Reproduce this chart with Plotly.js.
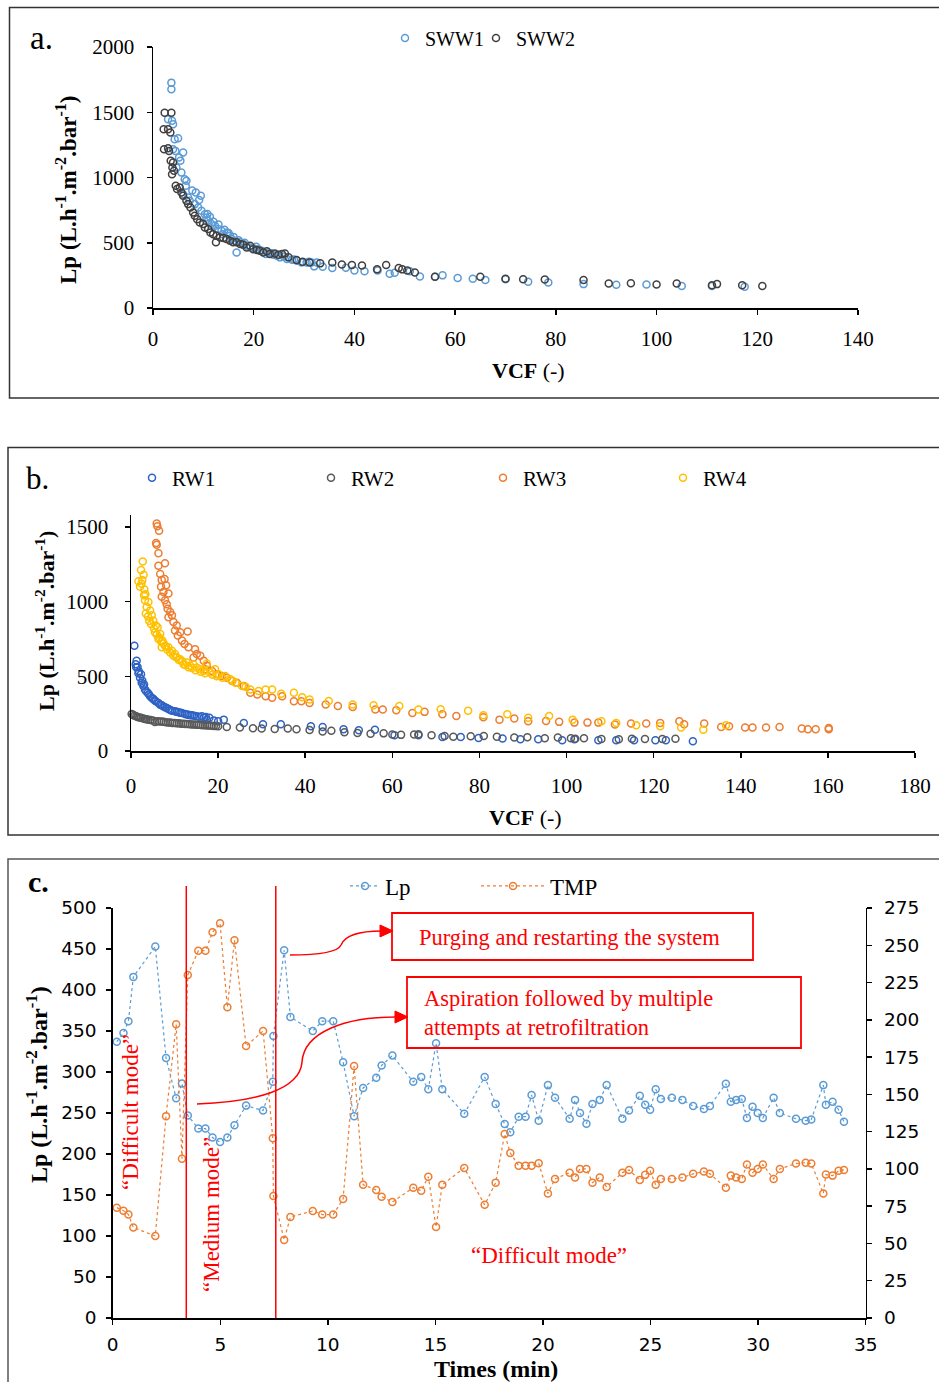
<!DOCTYPE html>
<html><head><meta charset="utf-8">
<script src="https://cdn.plot.ly/plotly-3.0.1.min.js"></script>
<style>html,body{margin:0;padding:0;background:#fff}#chart{width:939px;height:1382px}</style>
</head><body><div id="chart"></div>
<script>
// ---------- Panel a data ----------
const sww1VCF = [3.65,3.65,2.99,3.78,3.98,4.3,4.98,3.98,4.45,5.18,5.98,5.44,4.65,5.64,6.3,6.64,6.5,5.98,6.97,7.3,8.5,9.16,8.3,8.97,9.63,10.3,10.6,10.96,11.6,12.3,12.95,13.6,13.9,14.7,15.3,15.6,16.6,16.3,17.3,17.9,18.6,19.3,19.9,20.9,21.6,22.4,22.9,23.9,24.6,25.2,26.6,27.6,28.6,29.5,30.5,31.5,32,32.5,33.7,
  7.8,9.5,10.8,11.3,12,13,14.2,15,16,17,18.2,20.5,23.5,26,28,31,
  35.6,38.3,40,42,44.6,47,48,51,53,56,57.5,60.5,63.5,66,70,74.5,78.5,85.5,92,98,105,111,117.5];
const sww1Lp = [1727,1676,1446,1434,1408,1293,1301,1217,1204,1153,1191,1128,1077,1038,987,975,936,872,847,821,885,827,796,770,745,719,694,668,643,630,605,592,566,579,554,528,426,515,503,490,477,464,459,451,439,413,426,408,400,388,375,370,362,349,349,349,319,349,316,
  900,860,720,700,660,640,600,575,545,520,500,470,420,395,372,355,
  306,309,288,281,287,262,270,281,242,240,250,230,224,214,220,202,195,183,178,180,168,168,163];
const sww2VCF = [2.32,3.65,2.12,2.99,3.45,2.19,2.99,3.19,3.52,3.98,3.85,4.18,3.78,4.52,4.78,5.3,5.64,5.98,6.64,6.97,7.44,7.97,8.3,8.77,9.3,9.96,10.3,10.96,11.4,12.5,11.95,12.6,13.3,13.95,14.6,15.3,15.9,16.6,17.3,17.9,18.6,19.3,19.9,20.6,21.2,21.9,22.6,23.2,24.2,24.9,25.6,26.2,26.9,28.5,29.7,31.1,33.2,
  35.6,37.5,39.5,41.5,44.5,46.3,48.8,49.5,50.5,52,56,65,70,73.5,77.8,85.5,90.5,94.9,100,104,111,112,117,121];
const sww2Lp = [1497,1497,1370,1370,1344,1217,1224,1204,1128,1115,1077,1051,1025,936,911,923,885,860,821,796,770,732,707,681,656,643,617,605,579,503,566,554,541,536,528,515,503,503,490,485,464,477,451,444,439,426,434,413,418,408,413,418,388,367,355,349,342,
  349,334,329,326,296,330,306,296,288,272,240,240,225,220,218,215,187,190,180,188,175,183,175,168];

// ---------- Panel b data ----------
const rw1VCF = [0.77,1.3,1.07,1.5,1.84,2.3,2.07,2.46,2.84,3.2,3.84,4.4,5.1,5.7,6.3,7.06,7.8,8.6,9.4,10.1,10.9,11.7,12.4,13.2,14,15.1,16.3,17.2,17.4,
  1.2,1.7,2.6,3.0,3.5,4.1,4.8,5.4,6.7,7.4,8.2,9,10.5,11.3,12.8,13.6,14.5,15.7,16.8,18,19,20,
  21.3,25.9,30.3,34.4,41.3,44,48.8,52.3,56,60.5,66,71.5,75.7,79.8,85.3,89.4,93.5,99,101.8,107.3,111.4,115.5,120.4,122.8,129];
const rw1Lp = [705,604,581,563,532,514,491,457,435,412,390,367,349,333,322,306,293,282,270,266,259,254,248,243,239,232,232,227,209,
  560,520,470,445,400,380,355,340,310,300,288,275,262,256,245,240,236,230,225,222,205,200,
  210,188,179,179,166,161,146,139,143,105,105,94,94,87,83,78,78,72,78,72,72,72,72,72,65];
const rw2VCF = [0.15,0.5,0.8,1.2,1.5,1.9,2.3,2.8,3.2,3.6,4,4.5,5,5.5,6,6.5,7,7.5,8,8.5,9,9.5,10,10.5,11,11.5,12,12.5,13,13.5,14,14.5,15,15.5,16,16.5,17,17.5,18,18.5,19,19.5,20,
  22,25,28,30,33,36,38,41,44,46,49,52,55,58,60,62,65,66,69,72,74,78,81,84,88,91,95,98,101,102,104,108,112,115,118,122,125];
const rw2Lp = [248,242,236,232,228,225,222,218,215,212,210,208,205,194,200,198,197,195,193,191,190,188,188,186,185,183,182,181,180,179,178,177,175,175,174,173,172,171,170,169,168,167,166,
  160,158,152,150,148,150,145,140,130,135,125,120,115,118,110,108,110,112,105,100,95,98,100,95,90,92,85,90,85,82,85,80,78,82,80,80,82];
const rw3VCF = [5.9,5.9,6.06,6.45,5.76,5.9,6.3,6.3,7.8,6.7,7.06,7.7,8.06,6.9,7.45,8.6,7.06,7.8,8.2,8.4,9,9.4,8.6,9.75,10.5,10.1,11.3,13,10.75,11.7,12.3,13.2,14.7,15.1,15.9,14.35,16.7,17.4,17.05,18.6,19.7,20.9,22,23.2,24.3,25.9,27.4,29,30.9,32.4,34.7,37.4,39.1,41,
  44.7,47.5,50.9,56.1,57.8,60.9,64.6,67.4,71.5,74.7,80.9,84.6,88,91.2,95.3,98.3,101.8,104.8,107.3,111.1,114.8,118.3,121.5,125.9,127,131.6,135.5,137.3,141,142.7,145.8,148.9,154,155.4,157.2,160.2,160.2];
const rw3Lp = [1583,1523,1505,1475,1392,1381,1324,1241,1257,1185,1144,1151,1110,1099,1065,1054,1032,1009,982,953,930,908,896,863,840,806,795,800,773,739,716,694,682,649,637,626,604,570,547,536,514,502,491,468,457,435,390,378,367,356,367,333,333,322,
  311,302,295,278,278,273,255,262,246,235,226,210,217,199,201,195,190,190,190,177,184,184,188,199,179,184,161,166,157,157,157,161,150,146,146,146,154];
const rw4VCF = [2.7,2.3,1.7,2.6,2.07,3.07,3,3.2,4,3.6,4.4,4.76,5.1,5.7,6.1,5.5,6.7,6.3,7.2,7.8,8.6,7.06,9.4,10.1,10.5,11.3,12.06,12.8,13.6,14.35,15.1,15.9,16.7,17.4,18.2,19.3,20.1,21.6,22.8,24,25.5,27.4,29.3,30.9,32.4,34.5,37.4,39.3,41,
  3.4,3.9,4.2,4.6,5.3,5.9,6.5,7.0,7.5,8.0,8.3,9,9.7,10.3,11,11.8,12.5,13.2,14,14.8,16,17,18.7,19.7,21,23.3,26.3,2.9,3.3,2.4,
  45.4,50.9,55.7,61.6,66,71.1,77.4,80.9,86.4,91.2,96,101.4,108,111.4,116,121.5,126.3,131.4,136.6];
const rw4Lp = [1268,1212,1137,1144,1099,1081,1043,1009,998,964,941,908,874,840,829,795,784,750,739,705,694,694,671,649,626,615,581,592,570,581,559,547,536,586,525,547,514,502,480,457,435,412,401,412,412,383,390,360,345,
  920,900,870,850,820,780,760,730,720,700,680,660,640,630,610,600,575,560,555,540,530,520,510,500,490,470,430,1180,1050,1120,
  334,311,306,302,278,280,269,240,246,222,235,210,199,188,172,166,157,143,172];

// ---------- Panel c data ----------
const timeMin = [0.19,0.5,0.73,0.96,1.98,2.48,2.95,3.22,3.49,3.98,4.31,4.64,4.99,5.33,5.66,6.2,6.99,7.44,7.47,7.97,8.26,9.3,9.74,10.25,10.71,11.22,11.64,12.25,12.5,13.0,13.97,14.34,14.67,15.03,15.32,16.34,17.29,17.8,18.22,18.48,18.87,19.19,19.47,19.8,20.23,20.56,21.24,21.49,21.72,22.02,22.3,22.64,22.96,23.69,24.0,24.5,24.75,24.98,25.24,25.48,25.99,26.48,26.98,27.48,27.76,28.5,28.73,28.98,29.24,29.48,29.74,29.98,30.22,30.72,31.01,31.76,32.21,32.47,33.03,33.15,33.46,33.74,33.99];
const lpSeries = [337,347.5,362,416,453,317,268,286,247,231,231,220,214.5,220,235,259,253,288,344,448.5,367,350,362,362,312,246,280.6,293,308,320,288,294,279,335,279,249,294,261,236.6,226.5,245.5,245.5,272,240.7,284,268.7,243,266,250,237,261,266,284,243,253,271,260,254,279,267,268.7,266,258.5,255,258.5,285.7,263.8,266,267,244,257.7,250,244,268.7,250,243,240.7,242,284,260,263.8,254,239.4];
const tmpSeries = [74,72,69.4,60.7,55,135.4,197,106.8,230,246.4,246.4,258.7,264.7,208.5,253.3,182.4,192.5,120.6,81.8,52.4,67.8,71.8,69.4,69.4,79.8,169,89.4,85.9,81.4,77.8,87.4,85.4,94.8,61.1,89.4,100.6,75.9,90.8,123.4,110.7,102.2,102.2,102.2,103.8,83.5,93.3,97.5,94.2,100,100,90.8,94.2,87.9,97.5,99.3,92.6,96,98.7,89.3,93.3,93.3,94.2,96.7,98.2,96.7,87.3,95.5,94.2,93.3,102.9,97.5,100,102.9,93.3,100,103.6,104.2,103.6,83.5,96.2,95.5,98.7,99.3];
const modeLines = [3.42, 7.58];

// ---------- helpers ----------
const W = 939, H = 1382;
const px = x => x / W, py = y => 1 - y / H;
const P = (x, y) => px(x).toFixed(5) + ',' + py(y).toFixed(5);
const serif = 'Liberation Serif, Times New Roman, serif';
const sans = 'DejaVu Sans, sans-serif';
const RED = '#ff0000';

function ax(extra) {
  return Object.assign({showline:true, linecolor:'#000', linewidth:1.5, ticks:'outside', ticklen:5,
    tickwidth:1.5, tickcolor:'#000', showgrid:false, zeroline:false, fixedrange:true}, extra);
}
function mk(color, size) { return {symbol:'circle-open', size:size||7, color:color, line:{width:1.5}}; }

const traces = [
  {type:'scatter', mode:'markers', name:'SWW1', x:sww1VCF, y:sww1Lp, xaxis:'x', yaxis:'y', marker:mk('#5b9bd5'), legend:'legend', cliponaxis:false},
  {type:'scatter', mode:'markers', name:'SWW2', x:sww2VCF, y:sww2Lp, xaxis:'x', yaxis:'y', marker:mk('#404040'), legend:'legend2', cliponaxis:false},
  {type:'scatter', mode:'markers', name:'RW1', x:rw1VCF, y:rw1Lp, xaxis:'x2', yaxis:'y2', marker:mk('#2e62c4'), legend:'legend3', cliponaxis:false},
  {type:'scatter', mode:'markers', name:'RW2', x:rw2VCF, y:rw2Lp, xaxis:'x2', yaxis:'y2', marker:mk('#595959'), legend:'legend4', cliponaxis:false},
  {type:'scatter', mode:'markers', name:'RW3', x:rw3VCF, y:rw3Lp, xaxis:'x2', yaxis:'y2', marker:mk('#ed7d31'), legend:'legend5', cliponaxis:false},
  {type:'scatter', mode:'markers', name:'RW4', x:rw4VCF, y:rw4Lp, xaxis:'x2', yaxis:'y2', marker:mk('#ffc000'), legend:'legend6', cliponaxis:false},
  {type:'scatter', mode:'lines+markers', name:'Lp', x:timeMin, y:lpSeries, xaxis:'x3', yaxis:'y3', line:{color:'#5b9bd5', width:1.2, dash:'dot'}, marker:mk('#5b9bd5'), legend:'legend7', cliponaxis:false},
  {type:'scatter', mode:'lines+markers', name:'TMP', x:timeMin, y:tmpSeries, xaxis:'x3', yaxis:'y4', line:{color:'#ed7d31', width:1.2, dash:'dot'}, marker:mk('#ed7d31'), legend:'legend8', cliponaxis:false}
];

const fA = {family:serif, size:21, color:'#000'};
const fB = {family:serif, size:21, color:'#000'};
const fC = {family:sans, size:18.5, color:'#000'};

const lpTitle = 'Lp (L.h<sup>-1</sup>.m<sup>-2</sup>.bar<sup>-1</sup>)';

function ann(x, y, text, o) {
  return Object.assign({xref:'paper', yref:'paper', x:px(x), y:py(y), text:text, showarrow:false,
    xanchor:'center', yanchor:'middle', font:{family:serif, size:20, color:'#000'}}, o || {});
}

const annotations = [
  ann(41, 38, 'a.', {font:{family:serif, size:33, color:'#000'}}),
  ann(66, 190, '<b>' + lpTitle + '</b>', {textangle:-90, font:{family:serif, size:23, color:'#000'}}),
  ann(528, 370, '<b>VCF</b> (-)', {font:{family:serif, size:22, color:'#000'}}),
  ann(37, 479, 'b.', {font:{family:serif, size:31, color:'#000'}}),
  ann(45, 621, '<b>' + lpTitle + '</b>', {textangle:-90, font:{family:serif, size:22, color:'#000'}}),
  ann(525, 817, '<b>VCF</b> (-)', {font:{family:serif, size:22, color:'#000'}}),
  ann(38, 881, '<b>c.</b>', {font:{family:serif, size:30, color:'#000'}}),
  ann(37, 1085, '<b>' + lpTitle + '</b>', {textangle:-90, font:{family:serif, size:24, color:'#000'}}),
  ann(496, 1369, '<b>Times (min)</b>', {font:{family:serif, size:24, color:'#000'}}),
  ann(569, 937, 'Purging and restarting the system', {font:{family:serif, size:22.5, color:RED}}),
  ann(422, 1013, 'Aspiration followed by multiple<br>attempts at retrofiltration', {xanchor:'left', align:'left', font:{family:serif, size:22.5, color:RED}}),
  ann(130, 1112, '\u201cDifficult mode\u201d', {textangle:-90, font:{family:serif, size:23, color:RED}}),
  ann(211, 1215, '\u201cMedium mode\u201d', {textangle:-90, font:{family:serif, size:23, color:RED}}),
  ann(549, 1255, '\u201cDifficult mode\u201d', {font:{family:serif, size:23, color:RED}})
];

const shapes = [
  // panel borders
  {type:'rect', xref:'paper', yref:'paper', x0:px(9.5), x1:px(941), y0:py(398), y1:py(7.5), line:{color:'#333', width:1.5}},
  {type:'rect', xref:'paper', yref:'paper', x0:px(8), x1:px(941), y0:py(835), y1:py(447.5), line:{color:'#333', width:1.5}},
  {type:'rect', xref:'paper', yref:'paper', x0:px(8), x1:px(941), y0:py(1385), y1:py(859), line:{color:'#555', width:1.5}},
  // mode separators
  {type:'line', xref:'x3', yref:'paper', x0:modeLines[0], x1:modeLines[0], y0:py(1318), y1:py(886), line:{color:RED, width:1.5}},
  {type:'line', xref:'x3', yref:'paper', x0:modeLines[1], x1:modeLines[1], y0:py(1318), y1:py(886), line:{color:RED, width:1.5}},
  // callout boxes
  {type:'rect', xref:'paper', yref:'paper', x0:px(392), x1:px(753), y0:py(960), y1:py(913), line:{color:RED, width:1.8}},
  {type:'rect', xref:'paper', yref:'paper', x0:px(407), x1:px(801), y0:py(1048), y1:py(977), line:{color:RED, width:1.8}},
  // curved connectors
  {type:'path', xref:'paper', yref:'paper', path:'M' + P(290,955) + ' C' + P(322,955) + ' ' + P(338,952) + ' ' + P(341,945) + ' C' + P(345,935) + ' ' + P(362,931) + ' ' + P(382,931), line:{color:RED, width:1.5}},
  {type:'path', xref:'paper', yref:'paper', path:'M' + P(380,925) + ' L' + P(393,931) + ' L' + P(380,937) + ' Z', fillcolor:RED, line:{color:RED, width:1}},
  {type:'path', xref:'paper', yref:'paper', path:'M' + P(197,1104) + ' C' + P(255,1102) + ' ' + P(300,1090) + ' ' + P(302,1062) + ' C' + P(304,1032) + ' ' + P(345,1017) + ' ' + P(396,1017), line:{color:RED, width:1.5}},
  {type:'path', xref:'paper', yref:'paper', path:'M' + P(395,1011) + ' L' + P(408,1017) + ' L' + P(395,1023) + ' Z', fillcolor:RED, line:{color:RED, width:1}}
];

// one legend per entry, placed where the reference shows it
function leg(xItemStart, yCenter, size, itemwidth) {
  return {orientation:'h', xref:'paper', yref:'paper', x:px(xItemStart), y:py(yCenter), xanchor:'left', yanchor:'middle',
    bgcolor:'rgba(0,0,0,0)', borderwidth:0, itemwidth:itemwidth || 30, tracegroupgap:0,
    itemclick:false, itemdoubleclick:false, font:{family:serif, size:size, color:'#000'}};
}

const layout = {
  width:W, height:H, margin:{l:0, r:0, t:0, b:0, autoexpand:false}, paper_bgcolor:'#fff', plot_bgcolor:'rgba(0,0,0,0)',
  showlegend:true,
  legend: leg(385, 38, 20),
  legend2: leg(476, 38, 20),
  legend3: leg(132, 478, 21),
  legend4: leg(311, 478, 21),
  legend5: leg(483, 478, 21),
  legend6: leg(663, 478, 21),
  legend7: leg(345, 886, 23),
  legend8: leg(476, 886, 23, 64),
  xaxis: ax({domain:[px(153), px(858)], range:[0,140], dtick:20, anchor:'y', tickfont:fA, ticklabelstandoff:6}),
  yaxis: ax({domain:[py(308), py(47)], range:[0,2000], dtick:500, anchor:'x', tickfont:fA, ticklabelstandoff:8}),
  xaxis2: ax({domain:[px(131), px(915)], range:[0,180], dtick:20, anchor:'y2', tickfont:fB, ticklabelstandoff:10}),
  yaxis2: ax({domain:[py(751), py(515)], range:[0,1580], tickvals:[0,500,1000,1500], anchor:'x2', tickfont:fB, ticklabelstandoff:12}),
  xaxis3: ax({domain:[px(112.7), px(865.7)], range:[0,35], dtick:5, anchor:'y3', tickfont:fC, ticklabelstandoff:4}),
  yaxis3: ax({domain:[py(1318), py(908)], range:[0,500], dtick:50, anchor:'x3', tickfont:fC, ticklabelstandoff:6}),
  yaxis4: ax({domain:[py(1318), py(908)], range:[0,275], dtick:25, anchor:'x3', overlaying:'y3', side:'right', tickfont:fC, ticklabelstandoff:8}),
  annotations: annotations,
  shapes: shapes
};

Plotly.newPlot('chart', traces, layout, {displayModeBar:false, staticPlot:true});
</script></body></html>
